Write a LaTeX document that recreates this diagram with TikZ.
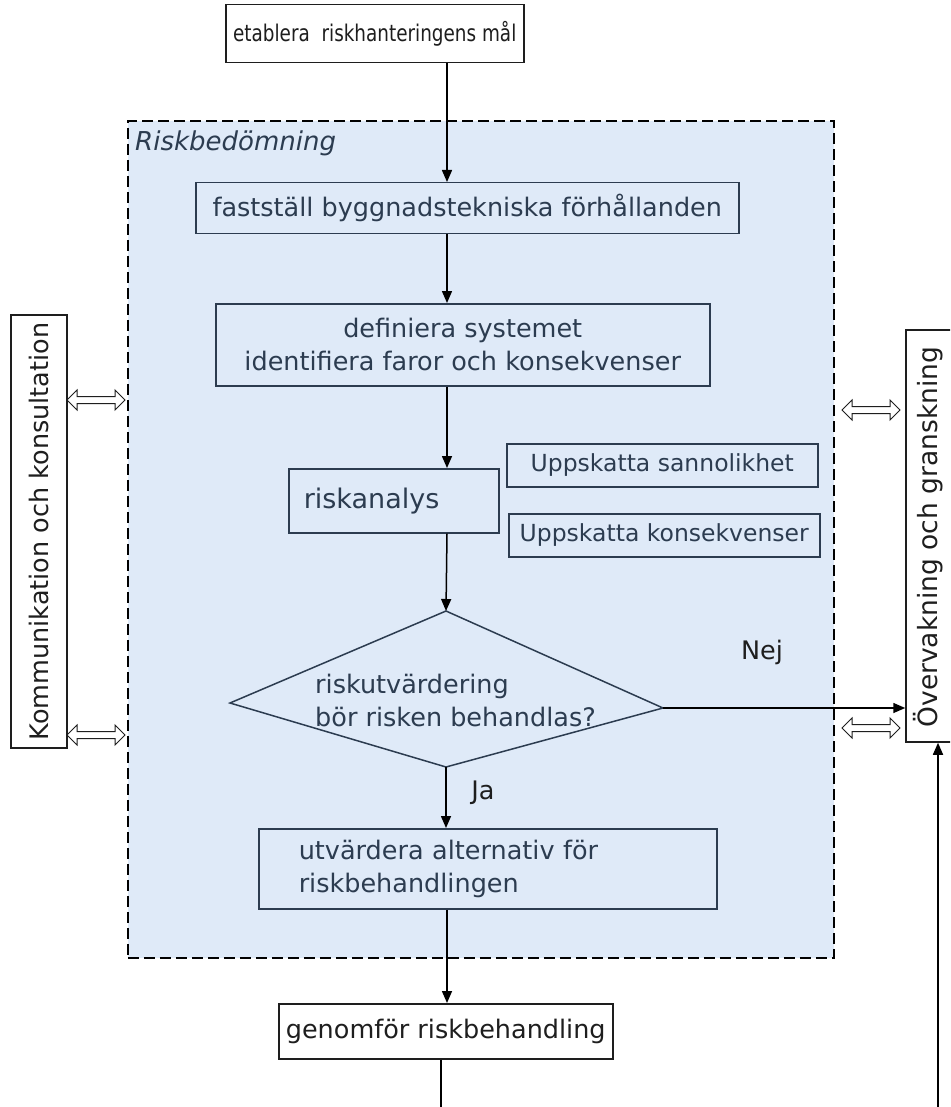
\documentclass[tikz,border=0pt]{standalone}
\usepackage{fontspec}
\setmainfont{DejaVu Sans}
\usetikzlibrary{arrows.meta,shapes.arrows,calc}
\definecolor{bgblue}{HTML}{DFEAF8}
\definecolor{slate}{HTML}{2C3C50}
\definecolor{ink}{HTML}{1E1E1E}
\begin{document}
\begin{tikzpicture}[x=1pt,y=-1pt,
  mainfont/.style={font=\fontsize{25.5}{33}\selectfont},
  smallfont/.style={font=\fontsize{23.5}{28}\selectfont},
  box/.style={draw=ink, line width=1.5pt, fill=white, inner sep=0pt, text=ink, mainfont},
  ibox/.style={draw=slate, line width=1.5pt, fill=bgblue, inner sep=0pt, text=slate, mainfont},
  estbox/.style={ibox, smallfont, anchor=north west, minimum width=311, minimum height=43},
  flow/.style={draw=black, line width=1.5pt, -{Triangle[length=12pt,width=10pt]}},
  plain/.style={draw=black, line width=1.5pt},
  dbl/.style={double arrow, draw=ink, fill=white, line width=1pt, inner sep=3pt,
    double arrow head extend=6.5pt, minimum height=58pt}
]
\useasboundingbox (0,0) rectangle (950,1107);
\clip (0,0) rectangle (950,1107);
\fill[white] (0,0) rectangle (950,1107);

% dashed region
\node[draw=black, line width=1.6pt, dash pattern=on 11pt off 5pt, fill=bgblue,
  minimum width=706, minimum height=837, anchor=north west, inner sep=0pt] (region) at (127,120) {};
\node[anchor=west, inner sep=0pt, text=slate, font=\itshape\fontsize{26}{30}\selectfont] (rtitle) at (135,143) {Riskbedömning};

\coordinate (X) at (447,0);

\node[box, anchor=north west, minimum width=298, minimum height=58, font=\fontsize{23}{28}\selectfont] (mal) at (225,4) {\scalebox{0.8}[1]{etablera\ \ riskhanteringens mål}};
\node[ibox, anchor=north west, minimum width=543, minimum height=51] (fast) at (195,182) {fastställ byggnadstekniska förhållanden};
\node[ibox, anchor=north west, minimum width=494, minimum height=82, align=center] (def) at (215,303) {definiera systemet\\identifiera faror och konsekvenser};
\node[ibox, anchor=north west, minimum width=210, minimum height=64, text width=180, inner xsep=15, align=left, font=\fontsize{27}{33}\selectfont] (ana) at (288,468) {riskanalys};
\node[estbox] (up1) at (506,443) {Uppskatta sannolikhet};
\node[estbox] (up2) at (508,513) {Uppskatta konsekvenser};

% decision diamond
\coordinate (dT) at (446,611);
\coordinate (dL) at (230,703);
\coordinate (dR) at (663,708);
\coordinate (dB) at (446,767);
\draw[slate, line width=1.5pt, fill=bgblue] (dT) -- (dR) -- (dB) -- (dL) -- cycle;
\node[text=slate, mainfont, align=left, anchor=west, inner sep=0pt] (evaltext) at (315,700) {riskutvärdering\\bör risken behandlas?};

\node[ibox, anchor=north west, minimum width=458, minimum height=80, text width=378, inner xsep=40, align=left] (utv) at (258,828) {utvärdera alternativ för\\riskbehandlingen};
\node[box, anchor=north west, minimum width=334, minimum height=55] (gen) at (278,1003) {genomför riskbehandling};

% side boxes
\node[box, rotate=90, minimum width=433, minimum height=56] (kom) at (39,531.5) {Kommunikation och konsultation};
\node[box, rotate=90, minimum width=412, minimum height=60] (ovr) at (936,536) {};
\node[rotate=90, inner sep=0pt, text=ink, font=\fontsize{26.5}{30}\selectfont] (ovrtext) at (928,537) {Övervakning och granskning};

% connectors
\draw[flow] (mal.south -| X) -- (fast.north -| X);
\draw[flow] (fast.south -| X) -- (def.north -| X);
\draw[flow] (def.south -| X) -- (ana.north -| X);
\draw[flow] (ana.south -| X) -- (dT);
\draw[flow] (dR) -- (dR -| ovr.north);
\draw[flow] (dB) -- (utv.north -| dB);
\draw[flow] (utv.south -| X) -- (gen.north -| X);
\coordinate (genout) at (441,1110);
\draw[plain] (gen.south -| genout) -- (genout);
\coordinate (monin) at (938,1110);
\draw[flow] (monin) -- (monin |- ovr.west);

\node[text=ink, mainfont, inner sep=0pt] (nej) at (762,652) {Nej};
\node[text=ink, mainfont, inner sep=0pt] (ja) at (483,793) {Ja};

% two-way exchanges
\node[dbl] (da1) at (96,400) {};
\node[dbl] (da2) at (96,735) {};
\node[dbl] (da3) at (871,410) {};
\node[dbl] (da4) at (871,728) {};
\end{tikzpicture}
\end{document}
